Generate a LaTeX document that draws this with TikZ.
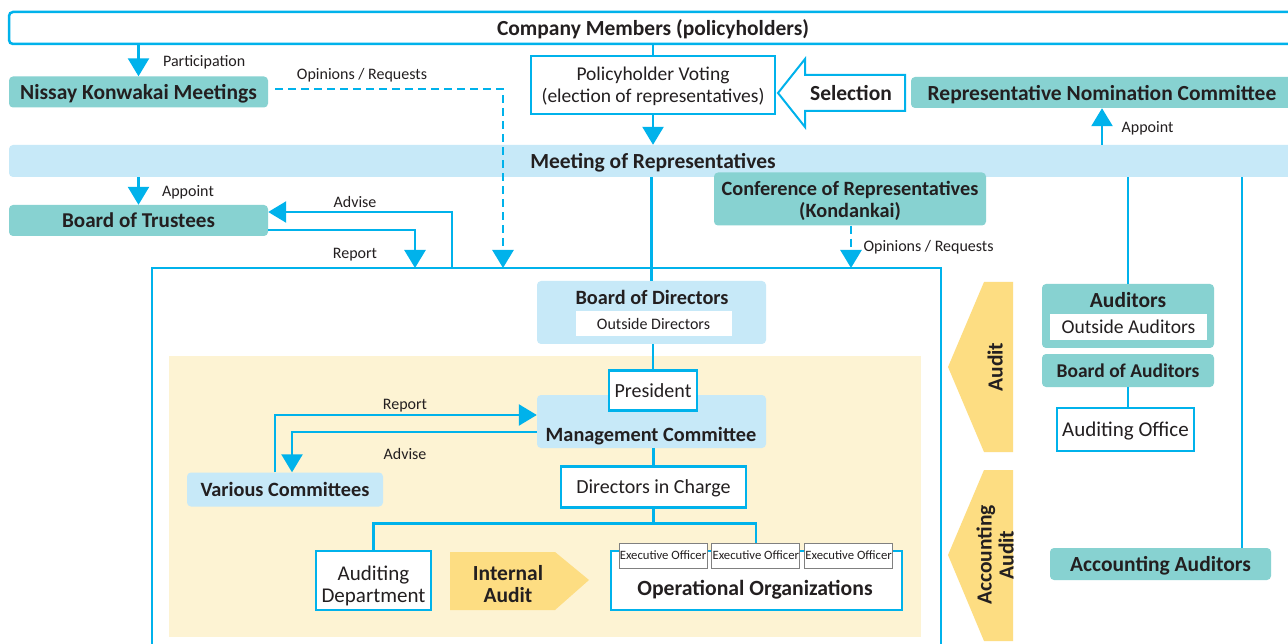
\documentclass[tikz,border=0pt]{standalone}
\usepackage{fontspec}
\setmainfont{Carlito}
\usetikzlibrary{arrows.meta, positioning}
\definecolor{cyanline}{HTML}{00B2EB}
\definecolor{tealc}{HTML}{87D2D1}
\definecolor{lightc}{HTML}{C7E9F8}
\definecolor{creamc}{HTML}{FDF3D3}
\definecolor{yellowc}{HTML}{FDDD82}
\definecolor{textc}{HTML}{231F20}
\definecolor{grayc}{HTML}{808080}

\begin{document}
\begin{tikzpicture}[x=1pt, y=-1pt,
        every node/.append style={text=textc, text depth=0pt},
        cline/.style={draw=cyanline, line width=2.5pt},
        flow/.style={cline, -{Triangle[width=21pt,length=18pt]}},
        dflow/.style={flow, dash pattern=on 8pt off 5pt},
        tealbox/.style={fill=tealc, rounded corners=4pt, inner sep=0pt},
        bluebox/.style={fill=lightc, rounded corners=4pt, inner sep=0pt},
        whitebox/.style={draw=cyanline, line width=2.5pt, fill=white, inner sep=0pt},
        execbox/.style={draw=grayc, line width=0.8pt, fill=white, minimum width=88pt, minimum height=25pt, inner sep=0pt, tinytxt},
        bigb/.style={font=\fontsize{21.5}{22}\selectfont\bfseries},
        midb/.style={font=\fontsize{20.3}{22}\selectfont\bfseries},
        regtxt/.style={font=\fontsize{20}{22}\selectfont},
        lbl/.style={font=\fontsize{16}{17}\selectfont},
        tinytxt/.style={font=\fontsize{12.7}{14}\selectfont}]
        \useasboundingbox[fill=white] (0,0) rectangle (1288,644);

        \node[whitebox, rounded corners=4pt, minimum width=1288pt, minimum height=32pt, bigb] (members) at (653, 28) {Company Members (policyholders)};
        \node[tealbox, minimum width=259pt, minimum height=31pt, bigb] (nissay) at (138.5, 92) {Nissay Konwakai Meetings};
        \node[whitebox, minimum width=244pt, minimum height=58pt, font=\fontsize{19.5}{22}\selectfont, align=center] (voting) at (653, 85) {Policyholder Voting\\(election of representatives)};
        \draw[cyanline, line width=2pt, fill=white] (778,93) -- (805,59) -- (805,75) -- (905,75) -- (905,111) -- (805,111) -- (805,127) -- cycle;
        \node[bigb] (selection) at (851, 93) {Selection};
        \node[tealbox, minimum width=382pt, minimum height=31pt, bigb] (nomin) at (1102, 92.5) {Representative Nomination Committee};
        \node[bluebox, minimum width=1288pt, minimum height=32pt, bigb] (meeting) at (653, 161) {Meeting of Representatives};
        \node[tealbox, minimum width=259pt, minimum height=31pt, font=\fontsize{21.1}{22}\selectfont\bfseries] (trustees) at (138.5, 220.5) {Board of Trustees};
        \node[tealbox, minimum width=272pt, minimum height=53pt, midb, align=center] (conf) at (850, 199) {Conference of Representatives\\(Kondankai)};

        \draw[flow] (members.south -| nissay.north) -- (nissay.north) node[midway, right=20pt, lbl] (partlbl) {Participation};
        \draw[cline] (members.south -| voting.north) -- (voting.north);
        \draw[flow] (voting.south) -- (voting.south |- meeting.north);
        \draw[flow] (meeting.north -| nomin.south) -- (nomin.south) node[midway, right=15pt, lbl] (applbl) {Appoint};
        \draw[flow] (meeting.south -| trustees.north) -- (trustees.north) node[midway, right=19pt, lbl] (apptlbl) {Appoint};

        % main organisation
        \node[draw=cyanline, line width=1.3pt, fill=white, minimum width=789pt, minimum height=384pt] (main) at (546.5, 460) {};
        \node[fill=creamc, minimum width=752pt, minimum height=281pt] (mgmt) at (544.5, 496.5) {};
        \coordinate (rep) at (415, 268);
        \coordinate (adv) at (452, 268);
        \coordinate (opn) at (503, 268);
        \coordinate (opn2) at (851, 268);
        \draw[flow] ([yshift=-9.5pt]trustees.east) -| (rep);
        \draw[flow] (adv) |- ([yshift=8.5pt]trustees.east);
        \node[lbl] (advlbl) at (355, 202) {Advise};
        \node[lbl] (replbl) at (355, 253) {Report};
        \draw[dflow] ([xshift=7pt, yshift=3pt]nissay.east) -| (opn);
        \node[lbl] (opnlbl) at (362, 74) {Opinions / Requests};
        \draw[dflow] (conf.south -| opn2) -- (opn2);
        \node[lbl, anchor=west] (opn2lbl) at (860, 246) {Opinions / Requests};

        \node[bluebox, minimum width=229pt, minimum height=63pt] (bod) at (651.5, 312.5) {};
        \node[midb] (bodtxt) at (652, 297) {Board of Directors};
        \node[fill=white, minimum width=156pt, minimum height=25pt, inner sep=0pt, lbl] (outdir) at (653.5, 324) {Outside Directors};
        \draw[cline] (meeting.south -| bod.north) -- (bod.north);

        \node[bluebox, minimum width=229pt, minimum height=53pt] (mc) at (651.5, 421.5) {};
        \node[midb] (mctxt) at (651, 434) {Management Committee};
        \node[whitebox, minimum width=88pt, minimum height=40pt, regtxt] (pres) at (653, 390.5) {President};
        \draw[cline] (bod.south -| pres.north) -- (pres.north);

        \node[bluebox, minimum width=196pt, minimum height=34pt, midb] (various) at (285, 489.5) {Various Committees};
        \draw[flow] ([xshift=-10pt]various.north) |- ([yshift=6.5pt]mc.west);
        \draw[flow] ([yshift=-10.5pt]mc.west) -| ([xshift=7pt]various.north);
        \node[lbl] (replbl2) at (405, 404) {Report};
        \node[lbl] (advlbl2) at (405, 454) {Advise};

        \node[whitebox, minimum width=185pt, minimum height=41pt, regtxt] (dic) at (653.5, 487) {Directors in Charge};
        \draw[cline] (mc.south -| dic.north) -- (dic.north);

        \node[whitebox, minimum width=115pt, minimum height=59pt] (auddept) at (373.5, 580.5) {};
        \node[font=\fontsize{21}{22}\selectfont, align=center] (auddepttxt) at (373.5, 584) {Auditing\\Department};
        \fill[yellowc] (450,552) -- (555,552) -- (589,580) -- (555,610) -- (450,610) -- cycle;
        \node[bigb, align=center] (intaudit) at (508, 584) {Internal\\Audit};
        \node[whitebox, minimum width=291pt, minimum height=59pt] (oporg) at (756.5, 580.5) {};
        \node[font=\fontsize{21.7}{22}\selectfont\bfseries] (oportxt) at (755, 588) {Operational Organizations};
        \node[execbox] (exec1) at (663, 555.5) {Executive Officer};
        \node[execbox, right = 4pt of exec1] (exec2) {Executive Officer};
        \node[execbox, right = 4pt of exec2] (exec3) {Executive Officer};
        \draw[cline] (dic.south) -- ++(0,14.5) -| (auddept.north);
        \draw[cline] (dic.south) -- ++(0,14.5) -| (exec2.north);

        % audit side
        \fill[yellowc] (984,282) -- (1013,282) -- (1013,452) -- (984,452) -- (948,367) -- cycle;
        \node[bigb, rotate=90] (audit) at (995, 367) {Audit};
        \fill[yellowc] (984,470) -- (1013,470) -- (1013,641) -- (984,641) -- (948,555) -- cycle;
        \node[bigb, rotate=90, align=center] (accaudit) at (995, 555) {Accounting\\Audit};

        \node[tealbox, minimum width=172pt, minimum height=64pt] (auditors) at (1128, 316) {};
        \node[bigb] (audtxt) at (1128, 300) {Auditors};
        \node[fill=white, minimum width=157pt, minimum height=26pt, inner sep=0pt, font=\fontsize{19.6}{22}\selectfont] (outaud) at (1128.5, 327) {Outside Auditors};
        \node[tealbox, minimum width=172pt, minimum height=33pt, font=\fontsize{19.5}{22}\selectfont\bfseries] (boa) at (1128, 370.5) {Board of Auditors};
        \node[whitebox, minimum width=137pt, minimum height=43pt, font=\fontsize{21}{22}\selectfont] (audoff) at (1125.5, 429.5) {Auditing Office};
        \draw[cline] (boa.south) -- (boa.south |- audoff.north);
        \node[tealbox, minimum width=221pt, minimum height=32pt, bigb] (accaud) at (1160.5, 564) {Accounting Auditors};
        \draw[cline] (meeting.south -| auditors.north) -- (auditors.north);
        \draw[cline] (meeting.south -| 1242,0) -- (accaud.north -| 1242,0);
\end{tikzpicture}
\end{document}
